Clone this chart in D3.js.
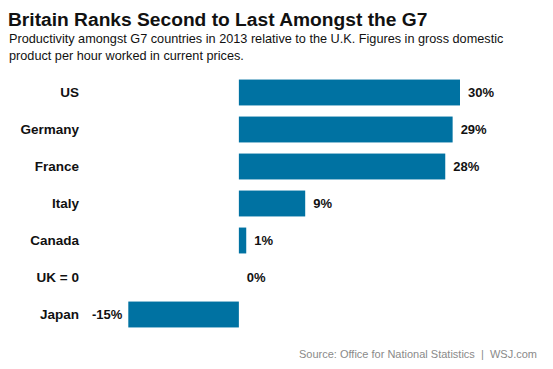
<!DOCTYPE html>
<html><head><meta charset="utf-8">
<script src="https://cdn.jsdelivr.net/npm/d3@7"></script>
<style>
body{margin:0;background:#fff;}
svg{display:block;font-family:"Liberation Sans",Arial,sans-serif;}
</style></head><body>
<svg id="c" width="553" height="369"></svg>
<script>
const categories = ["US","Germany","France","Italy","Canada","UK = 0","Japan"];
const values = [30, 29, 28, 9, 1, 0, -15];
const valueLabels = ["30%","29%","28%","9%","1%","0%","-15%"];

const svg = d3.select("#c");
const x = d3.scaleLinear().domain([-15, 30]).range([128.3, 460]);
const y = d3.scaleBand().domain(categories).range([74, 333]).paddingInner(0.3).paddingOuter(0.15);

svg.append("text").attr("x",8).attr("y",26).attr("font-size","19.2px").attr("font-weight","bold").attr("fill","#111")
  .text("Britain Ranks Second to Last Amongst the G7");
svg.append("text").attr("x",9).attr("y",43).attr("font-size","12.7px").attr("fill","#111")
  .text("Productivity amongst G7 countries in 2013 relative to the U.K. Figures in gross domestic");
svg.append("text").attr("x",9).attr("y",60).attr("font-size","12.7px").attr("fill","#111")
  .text("product per hour worked in current prices.");

svg.append("g").selectAll("rect").data(values).join("rect")
  .attr("x",(d)=>x(Math.min(0,d)))
  .attr("y",(d,i)=>y(categories[i]))
  .attr("width",(d)=>Math.abs(x(d)-x(0)))
  .attr("height",y.bandwidth())
  .attr("fill","#0072a2");

svg.append("g").selectAll("text").data(categories).join("text")
  .attr("x",79).attr("y",(d)=>y(d)+y.bandwidth()/2).attr("dy","0.35em")
  .attr("text-anchor","end").attr("font-size","13.5px").attr("font-weight","bold").attr("fill","#111")
  .text(d=>d);

svg.append("g").selectAll("text").data(values).join("text")
  .attr("x",(d)=> d<0 ? x(d)-6 : x(d)+8)
  .attr("y",(d,i)=>y(categories[i])+y.bandwidth()/2).attr("dy","0.35em")
  .attr("text-anchor",(d)=> d<0 ? "end":"start")
  .attr("font-size","13px").attr("font-weight","bold").attr("fill","#111")
  .text((d,i)=>valueLabels[i]);

svg.append("text").attr("x",537).attr("y",358).attr("text-anchor","end").attr("font-size","11px").attr("fill","#8a8a8a")
  .style("white-space","pre")
  .text("Source: Office for National Statistics  |  WSJ.com");
</script></body></html>
